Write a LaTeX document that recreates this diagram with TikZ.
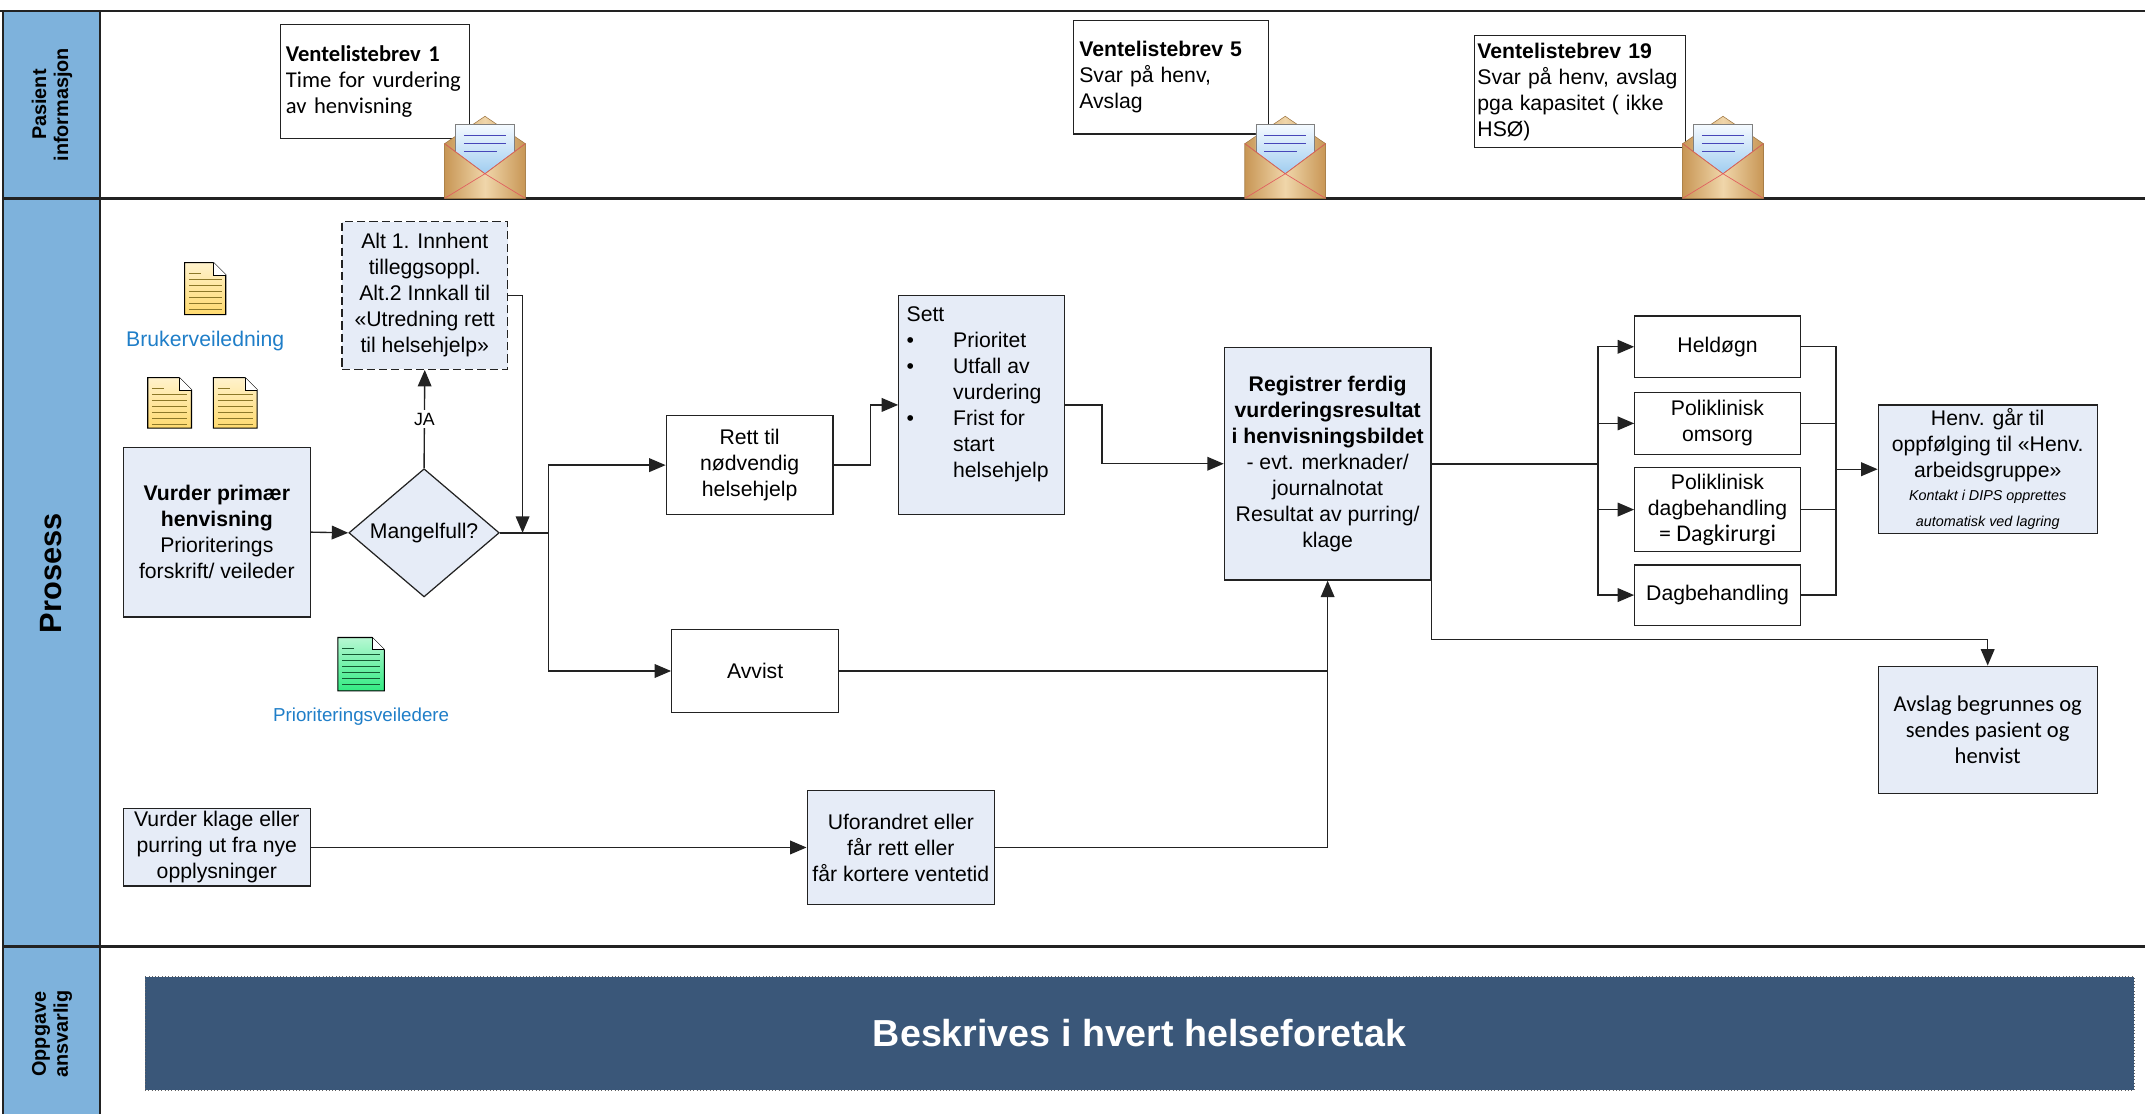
\documentclass[tikz,border=0pt]{standalone}
\usepackage{fontspec}
\setmainfont{Liberation Sans}
\newfontfamily\calibri{Carlito}
\usepackage{tikz}
\usetikzlibrary{arrows.meta,shapes,positioning}

\definecolor{lanecol}{RGB}{126,178,220}
\definecolor{boxfill}{RGB}{230,236,247}
\definecolor{linecol}{RGB}{34,34,34}
\definecolor{bannerfill}{RGB}{58,87,121}
\definecolor{linkblue}{RGB}{31,126,200}
\definecolor{docyellow}{RGB}{255,218,110}
\definecolor{docline}{RGB}{140,120,40}
\definecolor{docgreen}{RGB}{50,235,130}
\definecolor{docgreenline}{RGB}{20,90,50}
\definecolor{tanlight}{RGB}{240,214,170}
\definecolor{tandark}{RGB}{200,150,85}
\definecolor{mailred}{RGB}{225,95,95}
\definecolor{lettertop}{RGB}{245,250,255}
\definecolor{letterbot}{RGB}{150,200,238}

\newcommand{\bodyfont}{\fontsize{15.5}{19}\selectfont}

% envelope icon, bottom left corner at (#1,#2)
\newcommand{\mailicon}[2]{%
  \begin{scope}[shift={(#1,#2)},y=1pt]
    \shade[left color=tandark,right color=tandark,middle color=tanlight,draw=tandark!80!black,line width=0.4pt]
      (0,0) -- (0,40) -- (29.5,60) -- (59,40) -- (59,0) -- cycle;
    \shade[top color=lettertop,bottom color=letterbot,draw=gray,line width=0.4pt] (8,14) rectangle (51,54);
    \foreach \ly/\lx in {46/45,40/45,34/38}
      \draw[blue!45!gray,line width=0.7pt] (14,\ly) -- (\lx,\ly);
    \shade[left color=tandark,right color=tandark,middle color=tanlight,draw=tandark!80!black,line width=0.4pt]
      (0,0) -- (0,40) -- (29.5,18) -- (59,40) -- (59,0) -- cycle;
    \draw[mailred,line width=0.5pt] (0,40) -- (29.5,18) -- (59,40) (0,0) -- (29.5,18) -- (59,0);
  \end{scope}}

% document icon: x, y (bottom left), width, height, fill, line colour
\newcommand{\docicon}[6]{%
  \begin{scope}[shift={(#1,#2)},y=1pt]
    \shade[top color=#5!35!white,bottom color=#5,draw=black,line width=0.8pt]
      (0,0) -- (0,#4) -- (#3-9,#4) -- (#3,#4-9) -- (#3,0) -- cycle;
    \draw[line width=0.5pt,fill=white] (#3-9,#4) -- (#3-9,#4-9) -- (#3,#4-9);
    \draw[#6,line width=1pt] (3,#4-8) -- (12,#4-8);
    \foreach \k in {1,...,6}
      \draw[#6,line width=0.7pt] (3,#4-8-\k*4.4) -- (#3-3,#4-8-\k*4.4);
  \end{scope}}

\tikzstyle{procbox}=[draw=linecol,fill=boxfill,line width=0.9pt,inner sep=2pt,align=center,font=\bodyfont]
\tikzstyle{plainbox}=[procbox,fill=white]
\tikzstyle{letterbox}=[draw=linecol,fill=white,line width=0.9pt,inner xsep=4pt,inner ysep=2pt,align=left,font=\bodyfont]
\tikzstyle{decision}=[diamond,draw=linecol,fill=boxfill,line width=0.9pt,inner sep=0pt,minimum width=110pt,minimum height=83pt,font=\bodyfont]
\tikzstyle{flow}=[draw=linecol,line width=1pt,-{Triangle[length=12pt,width=10pt]}]
\tikzstyle{link}=[draw=linecol,line width=1pt]
\tikzstyle{laneline}=[draw=linecol,line width=1.8pt]
\tikzstyle{lanelabel}=[rotate=90,align=center,font=\fontsize{14.5}{16}\selectfont\bfseries]

\begin{document}
\begin{tikzpicture}[x=1pt,y=-1pt]
    \useasboundingbox (0,0) rectangle (1568,814);

    % Swimlanes
    \fill[lanecol] (2,8) rectangle (73,814);
    \draw[laneline] (0,8) -- (1568,8);
    \draw[laneline] (2,145) -- (1568,145);
    \draw[laneline] (2,692) -- (1568,692);
    \draw[laneline] (2,8) -- (2,814);
    \draw[laneline] (73,8) -- (73,814);
    \node[lanelabel] (lblpas) at (38,76.5) {Pasient\\informasjon};
    \node[lanelabel,font=\fontsize{22.5}{24}\selectfont\bfseries] (lblpro) at (37,419) {Prosess};
    \node[lanelabel] (lblopp) at (38,756) {Oppgave\\ansvarlig};

    % Letters to the patient
    \node[letterbox,text width=130pt,minimum height=83pt,font=\calibri\fontsize{16.5}{19}\selectfont] (vb1) at (274,59.5)
        {\textbf{Ventelistebrev 1}\\Time for vurdering\\av henvisning};
    \node[letterbox,text width=134pt,minimum height=83pt] (vb5) at (856,56.5)
        {\textbf{Ventelistebrev 5}\\Svar på henv,\\Avslag};
    \node[letterbox,inner xsep=2pt,text width=150pt,minimum height=82pt] (vb19) at (1155,67)
        {\textbf{Ventelistebrev 19}\\Svar på henv, avslag\\pga kapasitet ( ikke\\HSØ)};
    \foreach \ex in {325,910,1230}
        {\mailicon{\ex}{145}}

    % Documents
    \docicon{135}{230}{30}{38}{docyellow}{docline}
    \docicon{108}{313}{32}{37}{docyellow}{docline}
    \docicon{156}{313}{32}{37}{docyellow}{docline}
    \docicon{247}{505}{34}{39}{docgreen}{docgreenline}
    \node[text=linkblue,font=\bodyfont] (bruker) at (150,249) {Brukerveiledning};
    \node[text=linkblue,font=\fontsize{13.7}{16}\selectfont] (prioveil) at (264,524) {Prioriteringsveiledere};

    % Process steps
    \node[procbox,minimum width=137pt,minimum height=124pt] (vurder) at (158.5,389)
        {\textbf{Vurder primær}\\\textbf{henvisning}\\Prioriterings\\forskrift/ veileder};
    \node[decision] (mangel) at (310,389.5) {Mangelfull?};
    \node[procbox,dashed,dash pattern=on 6pt off 3pt,minimum width=121pt,minimum height=108pt] (alt) at (310.5,216)
        {Alt 1. Innhent\\tilleggsoppl.\\Alt.2 Innkall til\\«Utredning rett\\til helsehjelp»};
    \node[plainbox,minimum width=122pt,minimum height=72pt] (rett) at (548,340) {Rett til\\nødvendig\\helsehjelp};
    \node[procbox,minimum width=121pt,minimum height=160pt] (sett) at (717.5,296) {};
    \node[anchor=north west,inner sep=0pt,font=\bodyfont] (setttext) at ([shift={(6,6)}]sett.north west)
        {\begin{tabular}{@{}p{34pt}@{}l@{}}
         \multicolumn{2}{@{}l@{}}{Sett}\\
         \textbullet & Prioritet\\
         \textbullet & Utfall av\\
                     & vurdering\\
         \textbullet & Frist for\\
                     & start\\
                     & helsehjelp
         \end{tabular}};
    \node[procbox,minimum width=151pt,minimum height=170pt] (reg) at (970.5,339)
        {\textbf{Registrer ferdig}\\\textbf{vurderingsresultat}\\\textbf{i henvisningsbildet}\\- evt. merknader/\\journalnotat\\Resultat av purring/\\klage};
    \node[plainbox,minimum width=122pt,minimum height=61pt] (avvist) at (552,490.5) {Avvist};
    \node[procbox,minimum width=137pt,minimum height=53pt] (klage) at (158.5,619.5)
        {Vurder klage eller\\purring ut fra nye\\opplysninger};
    \node[procbox,minimum width=137pt,minimum height=83pt] (ufor) at (658.5,619.5)
        {Uforandret eller\\får rett eller\\får kortere ventetid};

    % Outcomes
    \foreach \pos/\name/\txt/\hgt in {(1255.5,253.5)/held/{Heldøgn}/45,
                                      (1255.5,309.5)/polo/{Poliklinisk\\omsorg}/45,
                                      (1255.5,372.5)/pold/{Poliklinisk\\dagbehandling\\{\calibri\fontsize{17.5}{19}\selectfont = Dagkirurgi}}/61,
                                      (1255.5,435)/dagb/{Dagbehandling}/44}
        \node[plainbox,minimum width=121pt,minimum height=\hgt pt] (\name) at \pos {\txt};
    \node[procbox,minimum width=160pt,minimum height=94pt] (henv) at (1453,343)
        {Henv. går til\\oppfølging til «Henv.\\arbeidsgruppe»\\[-2pt]{\fontsize{10.5}{18}\selectfont\itshape Kontakt i DIPS opprettes}\\{\fontsize{10.5}{18}\selectfont\itshape automatisk ved lagring}};
    \node[procbox,minimum width=160pt,minimum height=93pt,font=\calibri\fontsize{16.5}{19}\selectfont] (avslag) at (1453,533.5)
        {Avslag begrunnes og\\sendes pasient og\\henvist};

    % Responsible
    \node[draw=linecol!70,dotted,fill=bannerfill,minimum width=1454pt,minimum height=83pt,text=white,
          font=\fontsize{27.5}{30}\selectfont\bfseries] (banner) at (833,755.5) {Beskrives i hvert helseforetak};

    % Connect steps with arrows
    \coordinate (jn) at (382,389.5);
    \coordinate (split) at (401,389.5);
    \draw[flow] (vurder.east) -- (mangel.west);
    \draw[flow] (mangel.north) -- node[fill=white,inner sep=2pt,font=\fontsize{13}{15}\selectfont] (ja) {JA} (alt.south);
    \draw[flow] (alt.east) -| (jn);
    \draw[link] (mangel.east) -- (split);
    \draw[flow] (split) |- (rett.west);
    \draw[flow] (split) |- (avvist.west);
    \draw[flow] (rett.east) -- ++(27,0) |- (sett.west);
    \draw[flow] (sett.east) -- ++(27,0) |- (reg.west);
    \coordinate (merge) at (reg.south |- avvist.east);
    \draw[flow] (klage.east) -- (ufor.west);
    \draw[link] (ufor.east) -| (merge);
    \draw[flow] (avvist.east) -- (merge) -- (reg.south);

    \coordinate (fan) at (1168,339);
    \coordinate (gather) at (1342,343);
    \draw[link,line width=1.4pt] (reg.east) -- (fan);
    \foreach \name in {held,polo,pold,dagb} {
        \draw[flow] (fan) |- (\name.west);
        \draw[link] (\name.east) -| (gather);
    }
    \draw[flow] (gather) -- (henv.west);
    \draw[flow] (reg.south east) -- ++(0,43) -| (avslag.north);
\end{tikzpicture}
\end{document}
